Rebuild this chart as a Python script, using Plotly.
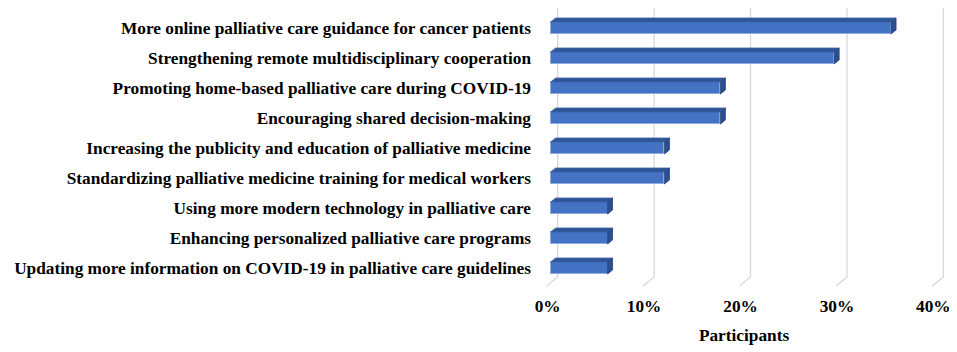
import plotly.graph_objects as go

categories = [
    "More online palliative care guidance for cancer patients",
    "Strengthening remote multidisciplinary cooperation",
    "Promoting home-based palliative care during COVID-19",
    "Encouraging shared decision-making",
    "Increasing the publicity and education of palliative medicine",
    "Standardizing palliative medicine training for medical workers",
    "Using more modern technology in palliative care",
    "Enhancing personalized palliative care programs",
    "Updating more information on COVID-19 in palliative care guidelines",
]
values = [0.353, 0.294, 0.176, 0.176, 0.118, 0.118, 0.059, 0.059, 0.059]
x_ticks = [0, 0.1, 0.2, 0.3, 0.4]
x_title = "Participants"

# layout geometry (the page body adds an 8px margin around the figure)
OFF = 8
W, H = 957 - OFF, 352 - OFF
X_MIN, X_MAX = -0.009, 0.41
PX_PER_X = 963.4                   # pixels per unit (1.0 = 100%)
ZERO_X = 551 - OFF                 # figure pixel of value 0 (bar front)
M_L = round(ZERO_X + X_MIN * PX_PER_X)
plot_w = round((X_MAX - X_MIN) * PX_PER_X)
M_R = W - M_L - plot_w
n = len(categories)
SLOT = 30
M_T = 13 - OFF
plot_h = n * SLOT
M_B = H - M_T - plot_h
px_per_x = plot_w / (X_MAX - X_MIN)
px_per_y = plot_h / n
BOTTOM_PX = M_T + plot_h          # figure pixel of plot bottom

BAR_H = 0.4
DX = 5 / px_per_x          # depth offset (x) in data units
DY = 4 / px_per_y          # depth offset (y) in data units
GRID_DX = 7 / px_per_x

FRONT = "#4472C4"
TOP = "#2F5597"
SIDE = "#2B4E8C"
GRID = "#D9D9D9"
FONT = "Liberation Serif"
FS = 17.3

ypos = list(range(n))

fig = go.Figure()
fig.add_trace(go.Bar(
    x=values, y=ypos, orientation="h", width=BAR_H,
    marker=dict(color=FRONT, line=dict(color="#8FAADC", width=1)),
    hoverinfo="x+y",
))


def paper_y(page_px):
    return (BOTTOM_PX - (page_px - OFF)) / plot_h


shapes = []
# back-plane gridlines with floor diagonals
for t in x_ticks:
    shapes.append(dict(type="line", xref="x", yref="paper", layer="below",
                       x0=t + GRID_DX, x1=t + GRID_DX,
                       y0=paper_y(277), y1=paper_y(7),
                       line=dict(color=GRID, width=1.3)))
    shapes.append(dict(type="line", xref="x", yref="paper", layer="below",
                       x0=t + GRID_DX, x1=t - 4 / px_per_x,
                       y0=paper_y(277), y1=paper_y(286),
                       line=dict(color=GRID, width=1.3)))

# 3D faces for each bar
for yi, v in zip(ypos, values):
    yt = yi - BAR_H / 2
    yb = yi + BAR_H / 2
    top_path = (f"M 0,{yt} L {v},{yt} L {v + DX},{yt - DY} "
                f"L {DX},{yt - DY} Z")
    side_path = (f"M {v},{yt} L {v + DX},{yt - DY} L {v + DX},{yb - DY} "
                 f"L {v},{yb} Z")
    shapes.append(dict(type="path", path=top_path, xref="x", yref="y",
                       fillcolor=TOP, line=dict(color="#3A62A8", width=0.8),
                       layer="above"))
    shapes.append(dict(type="path", path=side_path, xref="x", yref="y",
                       fillcolor=SIDE, line=dict(color="#24457E", width=0.8),
                       layer="above"))

fig.update_layout(
    width=W, height=H,
    margin=dict(l=M_L, r=M_R, t=M_T, b=M_B, autoexpand=False),
    paper_bgcolor="white", plot_bgcolor="white",
    showlegend=False,
    shapes=shapes,
    bargap=0,
)
fig.update_xaxes(
    range=[X_MIN, X_MAX], tickvals=x_ticks, tickformat=".0%",
    showgrid=False, zeroline=False, showline=False, automargin=False,
    ticks="", ticklabelshift=-3, ticklabelstandoff=11,
    tickfont=dict(family=FONT, size=FS, color="black", weight="bold"),
    title=dict(text=x_title, standoff=13,
               font=dict(family=FONT, size=FS, color="black", weight="bold")),
)
fig.update_yaxes(
    range=[n - 0.5, -0.5], tickvals=ypos, ticktext=categories,
    showgrid=False, zeroline=False, showline=False, ticks="", automargin=False,
    ticklabelstandoff=10,
    tickfont=dict(family=FONT, size=FS, color="black", weight="bold"),
)

fig.write_html("out.html")
